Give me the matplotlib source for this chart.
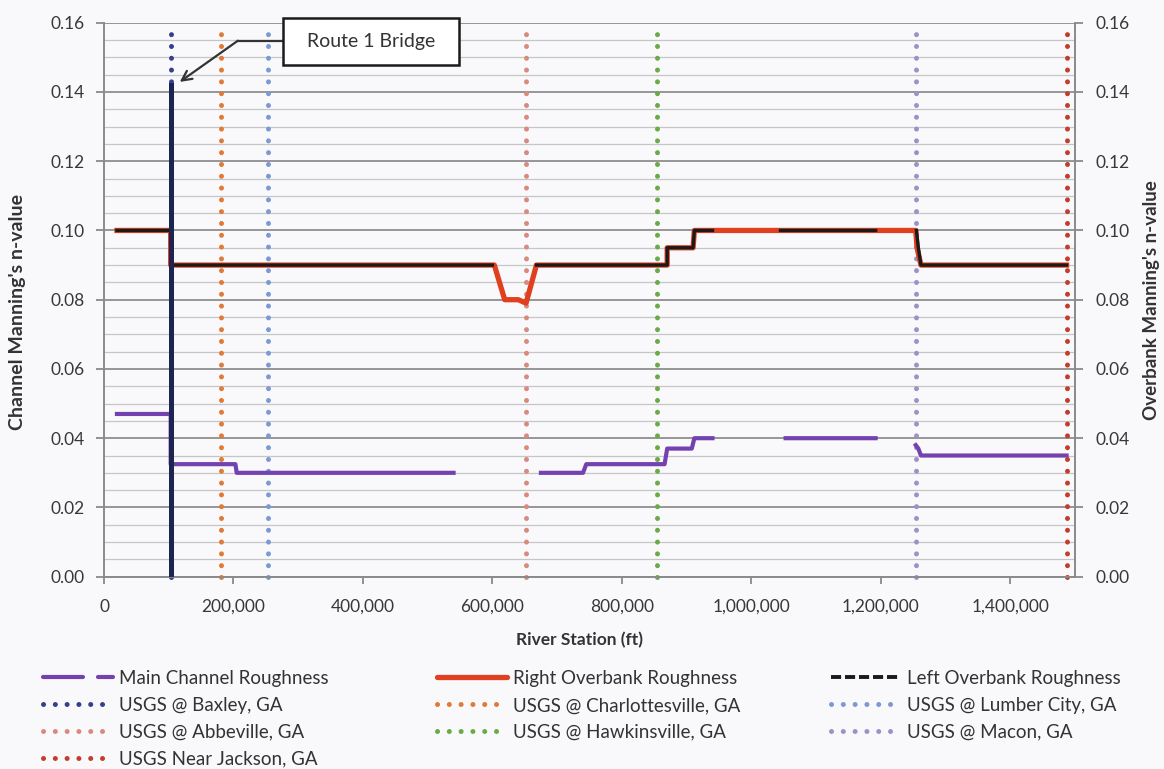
import numpy as np
import matplotlib
matplotlib.use('Agg')
import matplotlib.pyplot as plt
from matplotlib.patches import Rectangle
from matplotlib.ticker import FuncFormatter, MultipleLocator
from matplotlib.lines import Line2D

plt.rcParams['font.family'] = ['Lato', 'DejaVu Sans']

nan = np.nan
# ---------------- data ----------------
main_x = [20000, 103000, 103000, 203000, 205000, 540000, nan, 675000, 740000, 745000, 866000,
          870000, 908000, 912000, 940000, nan, 1053000, 1192000, nan, 1254000, 1258000, 1262000, 1487000]
main_y = [0.047, 0.047, 0.0325, 0.0325, 0.030, 0.030, nan, 0.030, 0.030, 0.0325, 0.0325,
          0.037, 0.037, 0.040, 0.040, nan, 0.040, 0.040, nan, 0.038, 0.037, 0.035, 0.035]

right_x = [20000, 103000, 103000, 603000, 619000, 640000, 652000, 668000, 870000, 870000,
           910000, 912000, 1254000, 1256000, 1262000, 1487000]
right_y = [0.100, 0.100, 0.090, 0.090, 0.080, 0.080, 0.079, 0.090, 0.090, 0.095,
           0.095, 0.100, 0.100, 0.095, 0.090, 0.090]

left_x = [20000, 103000, 103000, 600000, nan, 668000, 870000, 870000, 910000, 912000, 940000,
          nan, 1045000, 1192000, nan, 1255000, 1258000, 1262000, 1487000]
left_y = [0.100, 0.100, 0.090, 0.090, nan, 0.090, 0.090, 0.095, 0.095, 0.100, 0.100,
          nan, 0.100, 0.100, nan, 0.100, 0.095, 0.090, 0.090]

bridge_x = [103000, 103000]
bridge_y = [0.0, 0.142]

gauge_names = ['USGS @ Baxley, GA', 'USGS @ Charlottesville, GA', 'USGS @ Lumber City, GA',
               'USGS @ Abbeville, GA', 'USGS @ Hawkinsville, GA', 'USGS @ Macon, GA',
               'USGS Near Jackson, GA']
gauge_x = [103000, 180000, 254000, 652000, 855000, 1254000, 1487000]
gauge_y = [0.0, 0.16]
gauge_colors = ['#34408a', '#e07a36', '#7d99d3', '#d98a7e', '#6aab47', '#9c92c8', '#c43d2c']

x_ticks = [0, 200000, 400000, 600000, 800000, 1000000, 1200000, 1400000]
y_ticks = [0.00, 0.02, 0.04, 0.06, 0.08, 0.10, 0.12, 0.14, 0.16]

# ---------------- figure ----------------
W, H = 1164, 769
bg = '#f9f9fb'
fig = plt.figure(figsize=(W / 100, H / 100), dpi=100, facecolor=bg)
L, R, T, B = 104, 1075, 22.7, 576.7
ax = fig.add_axes([L / W, 1 - B / H, (R - L) / W, (B - T) / H])
ax.set_facecolor(bg)
ax.set_xlim(0, 1500000)
ax.set_ylim(0, 0.16)

ax.set_yticks(y_ticks)
ax.yaxis.set_minor_locator(MultipleLocator(0.005))
ax.grid(which='major', axis='y', color='#8e8e8e', lw=1.3, zorder=0)
ax.grid(which='minor', axis='y', color='#c6c6c6', lw=0.9, zorder=0)
ax.set_axisbelow(True)
ax.set_xticks(x_ticks)
ax.xaxis.set_major_formatter(FuncFormatter(lambda v, p: f'{int(v):,}'))
ax.yaxis.set_major_formatter(FuncFormatter(lambda v, p: f'{v:.2f}'))

tick_col = '#383838'
ax.tick_params(axis='y', which='major', direction='out', length=6, width=1.3, color='#8a8a8a',
               labelsize=12.5, labelcolor=tick_col, pad=8)
ax.tick_params(axis='y', which='minor', length=0)
ax.tick_params(axis='x', direction='out', length=5, width=1.3, color='#8a8a8a',
               labelsize=12.5, labelcolor=tick_col, pad=11)
for s in ['top', 'right']:
    ax.spines[s].set_visible(False)
for s in ['left', 'bottom']:
    ax.spines[s].set_color('#8a8a8a')
    ax.spines[s].set_linewidth(1.4)

ax2 = ax.twinx()
ax2.set_ylim(0, 0.16)
ax2.set_yticks(y_ticks)
ax2.yaxis.set_major_formatter(FuncFormatter(lambda v, p: f'{v:.2f}'))
ax2.tick_params(axis='y', direction='out', length=6, width=1.3, color='#8a8a8a',
                labelsize=12.5, labelcolor=tick_col, pad=9)
for s in ['top', 'left', 'bottom']:
    ax2.spines[s].set_visible(False)
ax2.spines['right'].set_color('#8a8a8a')
ax2.spines['right'].set_linewidth(1.4)

# ---------------- series ----------------
dot_ls = (0, (0.01, 2.35))
gauge_handles = []
for name, gx, c in zip(gauge_names, gauge_x, gauge_colors):
    ln, = ax.plot([gx, gx], gauge_y, color=c, lw=3.6, ls=dot_ls, dash_capstyle='round',
                  zorder=2, label=name, clip_on=False)
    gauge_handles.append(ln)

main_col, right_col, left_col = '#7442b0', '#e0401f', '#1a1a1a'
ax.plot(main_x, main_y, color=main_col, lw=3.0, zorder=3, solid_joinstyle='round')
ax.plot(right_x, right_y, color=right_col, lw=3.8, zorder=4, solid_joinstyle='round')
ax.plot(left_x, left_y, color=left_col, lw=2.4, zorder=5, solid_joinstyle='round')
ax.plot(bridge_x, bridge_y, color='#1e2452', lw=3.6, zorder=6)

h_main = Line2D([], [], color=main_col, lw=3.0, dashes=(9.6, 3.6), dash_capstyle='round')
h_right = Line2D([], [], color=right_col, lw=3.8, solid_capstyle='round')
h_left = Line2D([], [], color=left_col, lw=2.8, dashes=(2.6, 1.0))

# ---------------- annotation ----------------
ax.add_patch(Rectangle((276000, 0.1477), 273000, 0.0136, facecolor='white', edgecolor='#1a1a1a',
                       lw=1.8, zorder=10, clip_on=False))
ax.text(412500, 0.1546, 'Route 1 Bridge', ha='center', va='center', fontsize=14,
        color='#333333', zorder=11, clip_on=False)
ax.plot([276000, 206800], [0.1548, 0.1548], color='#333333', lw=1.6, zorder=9, clip_on=False)
ax.annotate('', xy=(117000, 0.1429), xytext=(206800, 0.1548),
            arrowprops=dict(arrowstyle='->,head_length=0.7,head_width=0.35', color='#333333',
                            lw=1.6, shrinkA=0, shrinkB=0), zorder=9)

# ---------------- labels ----------------
lab_col = '#333333'
fig.text(580 / W, 1 - 640 / H, 'River Station (ft)', ha='center', va='center', fontsize=12.5,
         fontweight='bold', color=lab_col)
fig.text(18 / W, 1 - 312 / H, "Channel Manning's n-value", ha='center', va='center', rotation=90,
         fontsize=14, fontweight='bold', color=lab_col)
fig.text(1152 / W, 1 - 300 / H, "Overbank Manning's n-value", ha='center', va='center',
         rotation=90, fontsize=13.5, fontweight='bold', color=lab_col)

# ---------------- legend (3 columns) ----------------
labels_all = ['Main Channel Roughness', 'Right Overbank Roughness', 'Left Overbank Roughness']
cols = [([h_main, gauge_handles[0], gauge_handles[3], gauge_handles[6]],
         [labels_all[0], gauge_names[0], gauge_names[3], gauge_names[6]]),
        ([h_right, gauge_handles[1], gauge_handles[4]],
         [labels_all[1], gauge_names[1], gauge_names[4]]),
        ([h_left, gauge_handles[2], gauge_handles[5]],
         [labels_all[2], gauge_names[2], gauge_names[5]])]
col_x = [43, 437, 831]
for (hs, lbs), cx in zip(cols, col_x):
    fig.legend(handles=hs, labels=lbs, loc='upper left',
               bbox_to_anchor=(cx / W, 1 - 670 / H), frameon=False, fontsize=13.5,
               handlelength=3.75, handletextpad=0.3, labelspacing=0.53, borderpad=0,
               borderaxespad=0, labelcolor='#333333')

fig.savefig('out.png', dpi=100, facecolor=bg)
